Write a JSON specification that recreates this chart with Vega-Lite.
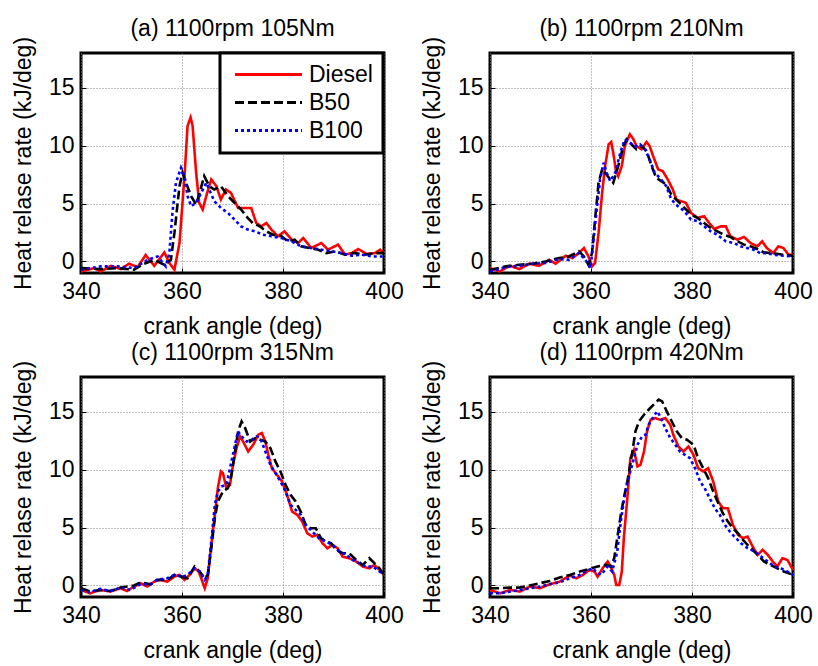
{
  "$schema": "https://vega.github.io/schema/vega-lite/v6.json",
  "padding": {"left": 10, "top": 16, "right": 3, "bottom": 0},
  "background": "white",
  "datasets": {
    "a": [
      {"fuel":"Diesel","deg":340,"hrr":-0.87},{"fuel":"Diesel","deg":342.6,"hrr":-0.58},{"fuel":"Diesel","deg":343.9,"hrr":-0.87},{"fuel":"Diesel","deg":345.9,"hrr":-0.38},{"fuel":"Diesel","deg":347.9,"hrr":-0.66},{"fuel":"Diesel","deg":349.5,"hrr":-0.2},{"fuel":"Diesel","deg":351.2,"hrr":-0.49},{"fuel":"Diesel","deg":352.8,"hrr":0.55},{"fuel":"Diesel","deg":354.5,"hrr":-0.38},{"fuel":"Diesel","deg":356.5,"hrr":0.78},{"fuel":"Diesel","deg":357.5,"hrr":-0.14},{"fuel":"Diesel","deg":358.5,"hrr":-0.72},{"fuel":"Diesel","deg":359.5,"hrr":1.59},{"fuel":"Diesel","deg":360.5,"hrr":7.37},{"fuel":"Diesel","deg":361.1,"hrr":11.7},{"fuel":"Diesel","deg":361.7,"hrr":12.43},{"fuel":"Diesel","deg":362.1,"hrr":11.7},{"fuel":"Diesel","deg":362.8,"hrr":7.66},{"fuel":"Diesel","deg":363.4,"hrr":5.06},{"fuel":"Diesel","deg":364.1,"hrr":4.48},{"fuel":"Diesel","deg":364.8,"hrr":5.64},{"fuel":"Diesel","deg":365.8,"hrr":7.08},{"fuel":"Diesel","deg":366.8,"hrr":6.5},{"fuel":"Diesel","deg":367.7,"hrr":5.35},{"fuel":"Diesel","deg":368.7,"hrr":6.21},{"fuel":"Diesel","deg":369.7,"hrr":5.92},{"fuel":"Diesel","deg":371.1,"hrr":4.62},{"fuel":"Diesel","deg":372.4,"hrr":4.62},{"fuel":"Diesel","deg":373.7,"hrr":4.62},{"fuel":"Diesel","deg":374.7,"hrr":3.32},{"fuel":"Diesel","deg":375.7,"hrr":3.03},{"fuel":"Diesel","deg":376.7,"hrr":3.32},{"fuel":"Diesel","deg":377.7,"hrr":2.75},{"fuel":"Diesel","deg":379.0,"hrr":2.17},{"fuel":"Diesel","deg":380.3,"hrr":2.6},{"fuel":"Diesel","deg":381.7,"hrr":1.88},{"fuel":"Diesel","deg":383.0,"hrr":1.59},{"fuel":"Diesel","deg":384.0,"hrr":2.02},{"fuel":"Diesel","deg":385.6,"hrr":1.16},{"fuel":"Diesel","deg":387.6,"hrr":1.59},{"fuel":"Diesel","deg":388.9,"hrr":1.01},{"fuel":"Diesel","deg":390.9,"hrr":1.45},{"fuel":"Diesel","deg":392.3,"hrr":0.58},{"fuel":"Diesel","deg":393.6,"hrr":0.72},{"fuel":"Diesel","deg":394.9,"hrr":1.07},{"fuel":"Diesel","deg":396.6,"hrr":0.64},{"fuel":"Diesel","deg":398.2,"hrr":0.72},{"fuel":"Diesel","deg":399.2,"hrr":1.01},{"fuel":"Diesel","deg":400,"hrr":0.72},
      {"fuel":"B50","deg":340,"hrr":-0.58},{"fuel":"B50","deg":343.9,"hrr":-0.66},{"fuel":"B50","deg":347.2,"hrr":-0.58},{"fuel":"B50","deg":350.5,"hrr":-0.72},{"fuel":"B50","deg":352.5,"hrr":-0.2},{"fuel":"B50","deg":354.5,"hrr":0.14},{"fuel":"B50","deg":356.5,"hrr":-0.29},{"fuel":"B50","deg":357.8,"hrr":0.14},{"fuel":"B50","deg":358.5,"hrr":2.46},{"fuel":"B50","deg":359.5,"hrr":6.5},{"fuel":"B50","deg":360.1,"hrr":7.66},{"fuel":"B50","deg":360.8,"hrr":6.79},{"fuel":"B50","deg":361.8,"hrr":5.64},{"fuel":"B50","deg":362.8,"hrr":4.91},{"fuel":"B50","deg":363.4,"hrr":5.78},{"fuel":"B50","deg":364.4,"hrr":7.37},{"fuel":"B50","deg":365.4,"hrr":6.5},{"fuel":"B50","deg":366.4,"hrr":6.21},{"fuel":"B50","deg":367.7,"hrr":6.5},{"fuel":"B50","deg":369.1,"hrr":5.64},{"fuel":"B50","deg":370.4,"hrr":5.06},{"fuel":"B50","deg":371.7,"hrr":4.48},{"fuel":"B50","deg":373.0,"hrr":3.76},{"fuel":"B50","deg":374.0,"hrr":3.32},{"fuel":"B50","deg":375.4,"hrr":3.03},{"fuel":"B50","deg":376.7,"hrr":2.6},{"fuel":"B50","deg":378.0,"hrr":2.31},{"fuel":"B50","deg":379.7,"hrr":2.17},{"fuel":"B50","deg":381.0,"hrr":1.73},{"fuel":"B50","deg":382.3,"hrr":1.88},{"fuel":"B50","deg":383.6,"hrr":1.3},{"fuel":"B50","deg":385.3,"hrr":1.16},{"fuel":"B50","deg":387.0,"hrr":1.01},{"fuel":"B50","deg":388.6,"hrr":0.72},{"fuel":"B50","deg":390.3,"hrr":0.87},{"fuel":"B50","deg":392.3,"hrr":0.58},{"fuel":"B50","deg":394.2,"hrr":0.72},{"fuel":"B50","deg":396.2,"hrr":0.58},{"fuel":"B50","deg":398.2,"hrr":0.72},{"fuel":"B50","deg":400,"hrr":0.72},
      {"fuel":"B100","deg":340,"hrr":-0.72},{"fuel":"B100","deg":343.9,"hrr":-0.43},{"fuel":"B100","deg":347.2,"hrr":-0.43},{"fuel":"B100","deg":350.5,"hrr":-0.58},{"fuel":"B100","deg":353.2,"hrr":0.14},{"fuel":"B100","deg":355.2,"hrr":0.43},{"fuel":"B100","deg":356.8,"hrr":-0.43},{"fuel":"B100","deg":357.5,"hrr":0.72},{"fuel":"B100","deg":358.1,"hrr":4.19},{"fuel":"B100","deg":358.8,"hrr":6.79},{"fuel":"B100","deg":359.8,"hrr":8.09},{"fuel":"B100","deg":360.5,"hrr":7.37},{"fuel":"B100","deg":361.1,"hrr":5.64},{"fuel":"B100","deg":361.8,"hrr":4.77},{"fuel":"B100","deg":362.8,"hrr":5.06},{"fuel":"B100","deg":363.8,"hrr":5.92},{"fuel":"B100","deg":364.8,"hrr":6.79},{"fuel":"B100","deg":365.4,"hrr":6.21},{"fuel":"B100","deg":366.4,"hrr":5.2},{"fuel":"B100","deg":367.7,"hrr":4.62},{"fuel":"B100","deg":369.1,"hrr":4.19},{"fuel":"B100","deg":370.4,"hrr":3.61},{"fuel":"B100","deg":371.7,"hrr":3.03},{"fuel":"B100","deg":373.0,"hrr":2.75},{"fuel":"B100","deg":374.4,"hrr":2.6},{"fuel":"B100","deg":376.0,"hrr":2.31},{"fuel":"B100","deg":377.7,"hrr":2.17},{"fuel":"B100","deg":379.7,"hrr":2.02},{"fuel":"B100","deg":381.7,"hrr":1.73},{"fuel":"B100","deg":383.6,"hrr":1.3},{"fuel":"B100","deg":385.6,"hrr":1.16},{"fuel":"B100","deg":387.6,"hrr":1.01},{"fuel":"B100","deg":389.6,"hrr":0.87},{"fuel":"B100","deg":391.6,"hrr":0.72},{"fuel":"B100","deg":393.6,"hrr":0.49},{"fuel":"B100","deg":395.6,"hrr":0.58},{"fuel":"B100","deg":397.5,"hrr":0.43},{"fuel":"B100","deg":400,"hrr":0.43}
    ],
    "b": [
      {"fuel":"Diesel","deg":340,"hrr":-0.58},{"fuel":"Diesel","deg":341.9,"hrr":-0.87},{"fuel":"Diesel","deg":343.9,"hrr":-0.38},{"fuel":"Diesel","deg":345.8,"hrr":-0.66},{"fuel":"Diesel","deg":347.8,"hrr":-0.2},{"fuel":"Diesel","deg":349.7,"hrr":-0.38},{"fuel":"Diesel","deg":351.7,"hrr":0.14},{"fuel":"Diesel","deg":353.0,"hrr":-0.2},{"fuel":"Diesel","deg":355.0,"hrr":0.49},{"fuel":"Diesel","deg":356.3,"hrr":0.29},{"fuel":"Diesel","deg":357.6,"hrr":0.72},{"fuel":"Diesel","deg":358.6,"hrr":1.16},{"fuel":"Diesel","deg":359.5,"hrr":0.43},{"fuel":"Diesel","deg":360.2,"hrr":-0.43},{"fuel":"Diesel","deg":360.8,"hrr":-0.14},{"fuel":"Diesel","deg":361.5,"hrr":2.46},{"fuel":"Diesel","deg":362.2,"hrr":5.92},{"fuel":"Diesel","deg":362.8,"hrr":8.24},{"fuel":"Diesel","deg":363.5,"hrr":10.12},{"fuel":"Diesel","deg":364.0,"hrr":10.32},{"fuel":"Diesel","deg":364.4,"hrr":9.39},{"fuel":"Diesel","deg":364.9,"hrr":7.95},{"fuel":"Diesel","deg":365.4,"hrr":7.37},{"fuel":"Diesel","deg":366.1,"hrr":8.24},{"fuel":"Diesel","deg":366.7,"hrr":9.97},{"fuel":"Diesel","deg":367.7,"hrr":10.98},{"fuel":"Diesel","deg":368.4,"hrr":10.55},{"fuel":"Diesel","deg":369.0,"hrr":9.97},{"fuel":"Diesel","deg":370.0,"hrr":9.68},{"fuel":"Diesel","deg":371.0,"hrr":10.32},{"fuel":"Diesel","deg":371.6,"hrr":9.97},{"fuel":"Diesel","deg":372.3,"hrr":9.1},{"fuel":"Diesel","deg":373.3,"hrr":7.95},{"fuel":"Diesel","deg":374.2,"hrr":7.8},{"fuel":"Diesel","deg":375.2,"hrr":7.08},{"fuel":"Diesel","deg":376.2,"hrr":6.21},{"fuel":"Diesel","deg":376.9,"hrr":5.35},{"fuel":"Diesel","deg":377.8,"hrr":5.2},{"fuel":"Diesel","deg":378.8,"hrr":5.06},{"fuel":"Diesel","deg":379.8,"hrr":4.19},{"fuel":"Diesel","deg":381.1,"hrr":3.76},{"fuel":"Diesel","deg":382.4,"hrr":3.9},{"fuel":"Diesel","deg":383.4,"hrr":3.32},{"fuel":"Diesel","deg":384.4,"hrr":2.8},{"fuel":"Diesel","deg":385.7,"hrr":3.03},{"fuel":"Diesel","deg":386.7,"hrr":3.03},{"fuel":"Diesel","deg":387.6,"hrr":2.17},{"fuel":"Diesel","deg":389.0,"hrr":1.88},{"fuel":"Diesel","deg":390.3,"hrr":2.11},{"fuel":"Diesel","deg":391.6,"hrr":1.59},{"fuel":"Diesel","deg":392.9,"hrr":1.3},{"fuel":"Diesel","deg":393.9,"hrr":1.73},{"fuel":"Diesel","deg":394.8,"hrr":1.16},{"fuel":"Diesel","deg":396.1,"hrr":0.72},{"fuel":"Diesel","deg":397.1,"hrr":1.3},{"fuel":"Diesel","deg":398.1,"hrr":1.16},{"fuel":"Diesel","deg":399.1,"hrr":0.58},{"fuel":"Diesel","deg":400,"hrr":0.58},
      {"fuel":"B50","deg":340,"hrr":-0.72},{"fuel":"B50","deg":343.2,"hrr":-0.43},{"fuel":"B50","deg":345.8,"hrr":-0.29},{"fuel":"B50","deg":348.4,"hrr":-0.2},{"fuel":"B50","deg":351.0,"hrr":0},{"fuel":"B50","deg":353.7,"hrr":0.29},{"fuel":"B50","deg":355.6,"hrr":0.43},{"fuel":"B50","deg":357.6,"hrr":0.87},{"fuel":"B50","deg":358.6,"hrr":0.43},{"fuel":"B50","deg":359.5,"hrr":-0.29},{"fuel":"B50","deg":360.2,"hrr":0.72},{"fuel":"B50","deg":360.8,"hrr":3.61},{"fuel":"B50","deg":361.5,"hrr":6.79},{"fuel":"B50","deg":362.2,"hrr":7.95},{"fuel":"B50","deg":362.8,"hrr":7.66},{"fuel":"B50","deg":363.8,"hrr":7.08},{"fuel":"B50","deg":364.4,"hrr":6.79},{"fuel":"B50","deg":365.4,"hrr":8.24},{"fuel":"B50","deg":366.4,"hrr":9.97},{"fuel":"B50","deg":367.1,"hrr":10.55},{"fuel":"B50","deg":368.0,"hrr":10.12},{"fuel":"B50","deg":369.0,"hrr":9.68},{"fuel":"B50","deg":370.0,"hrr":9.97},{"fuel":"B50","deg":371.0,"hrr":9.54},{"fuel":"B50","deg":372.0,"hrr":8.24},{"fuel":"B50","deg":372.9,"hrr":7.23},{"fuel":"B50","deg":373.9,"hrr":6.94},{"fuel":"B50","deg":374.9,"hrr":6.65},{"fuel":"B50","deg":375.9,"hrr":5.78},{"fuel":"B50","deg":377.2,"hrr":5.2},{"fuel":"B50","deg":378.5,"hrr":4.62},{"fuel":"B50","deg":379.8,"hrr":4.05},{"fuel":"B50","deg":381.1,"hrr":3.76},{"fuel":"B50","deg":382.4,"hrr":3.32},{"fuel":"B50","deg":383.7,"hrr":2.89},{"fuel":"B50","deg":385.0,"hrr":2.6},{"fuel":"B50","deg":386.3,"hrr":2.31},{"fuel":"B50","deg":387.6,"hrr":2.11},{"fuel":"B50","deg":389.0,"hrr":1.73},{"fuel":"B50","deg":390.3,"hrr":1.45},{"fuel":"B50","deg":391.6,"hrr":1.3},{"fuel":"B50","deg":392.9,"hrr":1.07},{"fuel":"B50","deg":394.2,"hrr":0.78},{"fuel":"B50","deg":395.5,"hrr":0.72},{"fuel":"B50","deg":396.8,"hrr":0.66},{"fuel":"B50","deg":398.1,"hrr":0.58},{"fuel":"B50","deg":400,"hrr":0.49},
      {"fuel":"B100","deg":340,"hrr":-0.87},{"fuel":"B100","deg":343.2,"hrr":-0.49},{"fuel":"B100","deg":345.8,"hrr":-0.38},{"fuel":"B100","deg":348.4,"hrr":-0.2},{"fuel":"B100","deg":351.0,"hrr":-0.14},{"fuel":"B100","deg":353.7,"hrr":0.2},{"fuel":"B100","deg":355.6,"hrr":0.14},{"fuel":"B100","deg":357.6,"hrr":0.72},{"fuel":"B100","deg":358.9,"hrr":0.14},{"fuel":"B100","deg":359.9,"hrr":-0.58},{"fuel":"B100","deg":360.5,"hrr":1.88},{"fuel":"B100","deg":361.2,"hrr":4.77},{"fuel":"B100","deg":361.8,"hrr":7.08},{"fuel":"B100","deg":362.5,"hrr":8.53},{"fuel":"B100","deg":363.1,"hrr":7.66},{"fuel":"B100","deg":363.8,"hrr":6.94},{"fuel":"B100","deg":364.8,"hrr":7.66},{"fuel":"B100","deg":365.8,"hrr":9.39},{"fuel":"B100","deg":366.7,"hrr":10.55},{"fuel":"B100","deg":367.7,"hrr":10.26},{"fuel":"B100","deg":368.7,"hrr":9.91},{"fuel":"B100","deg":369.7,"hrr":10.12},{"fuel":"B100","deg":370.7,"hrr":9.68},{"fuel":"B100","deg":371.6,"hrr":8.82},{"fuel":"B100","deg":372.6,"hrr":7.66},{"fuel":"B100","deg":373.6,"hrr":7.23},{"fuel":"B100","deg":374.9,"hrr":6.5},{"fuel":"B100","deg":375.9,"hrr":5.35},{"fuel":"B100","deg":377.2,"hrr":4.77},{"fuel":"B100","deg":378.5,"hrr":4.34},{"fuel":"B100","deg":379.8,"hrr":3.61},{"fuel":"B100","deg":381.1,"hrr":3.47},{"fuel":"B100","deg":382.4,"hrr":3.03},{"fuel":"B100","deg":383.7,"hrr":2.6},{"fuel":"B100","deg":385.0,"hrr":2.31},{"fuel":"B100","deg":386.7,"hrr":1.73},{"fuel":"B100","deg":388.3,"hrr":1.59},{"fuel":"B100","deg":389.6,"hrr":1.3},{"fuel":"B100","deg":390.9,"hrr":1.16},{"fuel":"B100","deg":392.2,"hrr":1.01},{"fuel":"B100","deg":393.5,"hrr":0.72},{"fuel":"B100","deg":394.8,"hrr":0.72},{"fuel":"B100","deg":396.1,"hrr":0.58},{"fuel":"B100","deg":398.1,"hrr":0.49},{"fuel":"B100","deg":400,"hrr":0.43}
    ],
    "c": [
      {"fuel":"Diesel","deg":340,"hrr":-0.39},{"fuel":"Diesel","deg":341.8,"hrr":-0.68},{"fuel":"Diesel","deg":343.8,"hrr":-0.39},{"fuel":"Diesel","deg":345.8,"hrr":-0.53},{"fuel":"Diesel","deg":347.8,"hrr":-0.24},{"fuel":"Diesel","deg":349.1,"hrr":-0.48},{"fuel":"Diesel","deg":350.5,"hrr":-0.1},{"fuel":"Diesel","deg":351.8,"hrr":0.19},{"fuel":"Diesel","deg":353.1,"hrr":-0.1},{"fuel":"Diesel","deg":354.5,"hrr":0.33},{"fuel":"Diesel","deg":355.8,"hrr":0.48},{"fuel":"Diesel","deg":357.1,"hrr":0.33},{"fuel":"Diesel","deg":358.5,"hrr":0.76},{"fuel":"Diesel","deg":359.5,"hrr":0.91},{"fuel":"Diesel","deg":360.5,"hrr":0.48},{"fuel":"Diesel","deg":361.5,"hrr":0.91},{"fuel":"Diesel","deg":362.5,"hrr":1.48},{"fuel":"Diesel","deg":363.3,"hrr":1.2},{"fuel":"Diesel","deg":363.8,"hrr":0.62},{"fuel":"Diesel","deg":364.5,"hrr":-0.24},{"fuel":"Diesel","deg":365.1,"hrr":0.62},{"fuel":"Diesel","deg":365.8,"hrr":3.5},{"fuel":"Diesel","deg":366.5,"hrr":6.1},{"fuel":"Diesel","deg":367.1,"hrr":8.4},{"fuel":"Diesel","deg":367.7,"hrr":9.84},{"fuel":"Diesel","deg":368.1,"hrr":9.7},{"fuel":"Diesel","deg":368.8,"hrr":8.4},{"fuel":"Diesel","deg":369.5,"hrr":8.69},{"fuel":"Diesel","deg":370.1,"hrr":10.42},{"fuel":"Diesel","deg":370.8,"hrr":11.86},{"fuel":"Diesel","deg":371.5,"hrr":12.87},{"fuel":"Diesel","deg":372.1,"hrr":12.43},{"fuel":"Diesel","deg":373.1,"hrr":11.57},{"fuel":"Diesel","deg":374.1,"hrr":12.15},{"fuel":"Diesel","deg":375.1,"hrr":13.01},{"fuel":"Diesel","deg":375.8,"hrr":13.16},{"fuel":"Diesel","deg":376.5,"hrr":12.43},{"fuel":"Diesel","deg":377.1,"hrr":11.28},{"fuel":"Diesel","deg":377.8,"hrr":10.13},{"fuel":"Diesel","deg":378.8,"hrr":9.55},{"fuel":"Diesel","deg":379.8,"hrr":8.98},{"fuel":"Diesel","deg":380.8,"hrr":7.82},{"fuel":"Diesel","deg":381.8,"hrr":6.38},{"fuel":"Diesel","deg":382.8,"hrr":6.1},{"fuel":"Diesel","deg":383.8,"hrr":5.52},{"fuel":"Diesel","deg":384.8,"hrr":4.51},{"fuel":"Diesel","deg":385.8,"hrr":4.22},{"fuel":"Diesel","deg":386.8,"hrr":4.37},{"fuel":"Diesel","deg":387.8,"hrr":3.65},{"fuel":"Diesel","deg":388.8,"hrr":3.21},{"fuel":"Diesel","deg":389.8,"hrr":3.5},{"fuel":"Diesel","deg":390.8,"hrr":3.21},{"fuel":"Diesel","deg":391.8,"hrr":2.49},{"fuel":"Diesel","deg":393.1,"hrr":2.35},{"fuel":"Diesel","deg":394.5,"hrr":2.06},{"fuel":"Diesel","deg":395.8,"hrr":1.63},{"fuel":"Diesel","deg":397.1,"hrr":1.48},{"fuel":"Diesel","deg":398.1,"hrr":1.77},{"fuel":"Diesel","deg":399.1,"hrr":1.34},{"fuel":"Diesel","deg":400,"hrr":0.91},
      {"fuel":"B50","deg":340,"hrr":-0.24},{"fuel":"B50","deg":341.8,"hrr":-0.53},{"fuel":"B50","deg":343.8,"hrr":-0.39},{"fuel":"B50","deg":345.8,"hrr":-0.48},{"fuel":"B50","deg":347.8,"hrr":-0.19},{"fuel":"B50","deg":350.5,"hrr":0},{"fuel":"B50","deg":351.8,"hrr":0.27},{"fuel":"B50","deg":353.8,"hrr":0.1},{"fuel":"B50","deg":355.1,"hrr":0.48},{"fuel":"B50","deg":357.1,"hrr":0.48},{"fuel":"B50","deg":358.5,"hrr":0.91},{"fuel":"B50","deg":359.8,"hrr":0.76},{"fuel":"B50","deg":361.1,"hrr":0.62},{"fuel":"B50","deg":362.5,"hrr":1.63},{"fuel":"B50","deg":363.5,"hrr":1.2},{"fuel":"B50","deg":364.5,"hrr":0.62},{"fuel":"B50","deg":365.1,"hrr":0.91},{"fuel":"B50","deg":365.8,"hrr":3.21},{"fuel":"B50","deg":366.5,"hrr":5.81},{"fuel":"B50","deg":367.1,"hrr":7.25},{"fuel":"B50","deg":368.1,"hrr":8.11},{"fuel":"B50","deg":369.1,"hrr":8.4},{"fuel":"B50","deg":369.8,"hrr":9.55},{"fuel":"B50","deg":370.5,"hrr":11.57},{"fuel":"B50","deg":371.1,"hrr":13.3},{"fuel":"B50","deg":371.8,"hrr":14.16},{"fuel":"B50","deg":372.5,"hrr":13.59},{"fuel":"B50","deg":373.5,"hrr":12.43},{"fuel":"B50","deg":374.5,"hrr":12.72},{"fuel":"B50","deg":375.5,"hrr":12.58},{"fuel":"B50","deg":376.5,"hrr":12.43},{"fuel":"B50","deg":377.5,"hrr":11.86},{"fuel":"B50","deg":378.5,"hrr":10.71},{"fuel":"B50","deg":379.5,"hrr":9.84},{"fuel":"B50","deg":380.5,"hrr":8.69},{"fuel":"B50","deg":381.5,"hrr":7.82},{"fuel":"B50","deg":382.5,"hrr":7.25},{"fuel":"B50","deg":383.5,"hrr":6.38},{"fuel":"B50","deg":384.5,"hrr":5.23},{"fuel":"B50","deg":385.5,"hrr":4.94},{"fuel":"B50","deg":386.5,"hrr":4.94},{"fuel":"B50","deg":387.5,"hrr":4.08},{"fuel":"B50","deg":388.5,"hrr":3.79},{"fuel":"B50","deg":389.5,"hrr":3.65},{"fuel":"B50","deg":390.5,"hrr":3.07},{"fuel":"B50","deg":391.8,"hrr":2.78},{"fuel":"B50","deg":393.1,"hrr":2.78},{"fuel":"B50","deg":394.5,"hrr":2.2},{"fuel":"B50","deg":395.8,"hrr":1.77},{"fuel":"B50","deg":397.1,"hrr":2.35},{"fuel":"B50","deg":398.1,"hrr":1.92},{"fuel":"B50","deg":399.1,"hrr":1.48},{"fuel":"B50","deg":400,"hrr":0.91},
      {"fuel":"B100","deg":340,"hrr":-0.39},{"fuel":"B100","deg":341.8,"hrr":-0.59},{"fuel":"B100","deg":343.8,"hrr":-0.3},{"fuel":"B100","deg":345.8,"hrr":-0.48},{"fuel":"B100","deg":347.8,"hrr":-0.19},{"fuel":"B100","deg":349.8,"hrr":-0.39},{"fuel":"B100","deg":351.8,"hrr":0.1},{"fuel":"B100","deg":353.8,"hrr":0.1},{"fuel":"B100","deg":355.1,"hrr":0.48},{"fuel":"B100","deg":357.1,"hrr":0.62},{"fuel":"B100","deg":358.5,"hrr":0.91},{"fuel":"B100","deg":360.1,"hrr":0.76},{"fuel":"B100","deg":361.1,"hrr":0.91},{"fuel":"B100","deg":362.5,"hrr":1.48},{"fuel":"B100","deg":363.5,"hrr":1.2},{"fuel":"B100","deg":364.5,"hrr":0.48},{"fuel":"B100","deg":365.1,"hrr":0.91},{"fuel":"B100","deg":365.8,"hrr":3.79},{"fuel":"B100","deg":366.5,"hrr":6.96},{"fuel":"B100","deg":367.1,"hrr":8.11},{"fuel":"B100","deg":367.8,"hrr":8.54},{"fuel":"B100","deg":368.8,"hrr":8.69},{"fuel":"B100","deg":369.8,"hrr":10.71},{"fuel":"B100","deg":370.5,"hrr":12.15},{"fuel":"B100","deg":371.1,"hrr":13.3},{"fuel":"B100","deg":371.8,"hrr":12.87},{"fuel":"B100","deg":372.8,"hrr":12.43},{"fuel":"B100","deg":373.8,"hrr":12.58},{"fuel":"B100","deg":374.8,"hrr":12.87},{"fuel":"B100","deg":375.5,"hrr":12.72},{"fuel":"B100","deg":376.5,"hrr":11.57},{"fuel":"B100","deg":377.5,"hrr":10.42},{"fuel":"B100","deg":378.5,"hrr":9.7},{"fuel":"B100","deg":379.5,"hrr":8.98},{"fuel":"B100","deg":380.5,"hrr":8.11},{"fuel":"B100","deg":381.5,"hrr":6.96},{"fuel":"B100","deg":382.5,"hrr":6.53},{"fuel":"B100","deg":383.5,"hrr":6.1},{"fuel":"B100","deg":384.5,"hrr":5.23},{"fuel":"B100","deg":385.8,"hrr":4.65},{"fuel":"B100","deg":387.1,"hrr":4.08},{"fuel":"B100","deg":388.5,"hrr":3.79},{"fuel":"B100","deg":389.8,"hrr":3.5},{"fuel":"B100","deg":391.1,"hrr":2.93},{"fuel":"B100","deg":392.5,"hrr":2.64},{"fuel":"B100","deg":393.8,"hrr":2.2},{"fuel":"B100","deg":395.1,"hrr":1.92},{"fuel":"B100","deg":396.5,"hrr":1.63},{"fuel":"B100","deg":397.8,"hrr":1.63},{"fuel":"B100","deg":399.1,"hrr":1.2},{"fuel":"B100","deg":400,"hrr":0.91}
    ],
    "d": [
      {"fuel":"Diesel","deg":340,"hrr":-0.39},{"fuel":"Diesel","deg":342.0,"hrr":-0.68},{"fuel":"Diesel","deg":344.0,"hrr":-0.39},{"fuel":"Diesel","deg":345.9,"hrr":-0.53},{"fuel":"Diesel","deg":347.9,"hrr":-0.1},{"fuel":"Diesel","deg":349.9,"hrr":-0.24},{"fuel":"Diesel","deg":351.8,"hrr":0.1},{"fuel":"Diesel","deg":353.8,"hrr":0.33},{"fuel":"Diesel","deg":355.8,"hrr":0.85},{"fuel":"Diesel","deg":357.1,"hrr":0.62},{"fuel":"Diesel","deg":358.4,"hrr":0.91},{"fuel":"Diesel","deg":359.7,"hrr":1.34},{"fuel":"Diesel","deg":360.7,"hrr":1.2},{"fuel":"Diesel","deg":361.3,"hrr":0.76},{"fuel":"Diesel","deg":362.3,"hrr":1.48},{"fuel":"Diesel","deg":363.3,"hrr":2.06},{"fuel":"Diesel","deg":363.9,"hrr":1.63},{"fuel":"Diesel","deg":364.6,"hrr":0.91},{"fuel":"Diesel","deg":365.0,"hrr":0.04},{"fuel":"Diesel","deg":365.6,"hrr":0.04},{"fuel":"Diesel","deg":366.1,"hrr":1.2},{"fuel":"Diesel","deg":366.5,"hrr":4.08},{"fuel":"Diesel","deg":367.2,"hrr":7.54},{"fuel":"Diesel","deg":367.8,"hrr":10.99},{"fuel":"Diesel","deg":368.5,"hrr":11.71},{"fuel":"Diesel","deg":369.2,"hrr":10.27},{"fuel":"Diesel","deg":369.8,"hrr":10.42},{"fuel":"Diesel","deg":370.5,"hrr":11.57},{"fuel":"Diesel","deg":371.1,"hrr":13.3},{"fuel":"Diesel","deg":371.8,"hrr":14.3},{"fuel":"Diesel","deg":372.7,"hrr":14.45},{"fuel":"Diesel","deg":373.7,"hrr":14.3},{"fuel":"Diesel","deg":374.7,"hrr":14.45},{"fuel":"Diesel","deg":375.7,"hrr":13.88},{"fuel":"Diesel","deg":376.3,"hrr":13.01},{"fuel":"Diesel","deg":377.3,"hrr":12.0},{"fuel":"Diesel","deg":378.3,"hrr":11.57},{"fuel":"Diesel","deg":379.3,"hrr":12.0},{"fuel":"Diesel","deg":380.3,"hrr":11.28},{"fuel":"Diesel","deg":381.2,"hrr":10.13},{"fuel":"Diesel","deg":382.2,"hrr":9.84},{"fuel":"Diesel","deg":383.2,"hrr":10.13},{"fuel":"Diesel","deg":384.2,"hrr":8.98},{"fuel":"Diesel","deg":385.2,"hrr":7.25},{"fuel":"Diesel","deg":386.1,"hrr":6.67},{"fuel":"Diesel","deg":387.1,"hrr":6.67},{"fuel":"Diesel","deg":388.1,"hrr":5.23},{"fuel":"Diesel","deg":389.1,"hrr":4.37},{"fuel":"Diesel","deg":390.1,"hrr":4.08},{"fuel":"Diesel","deg":391.0,"hrr":4.22},{"fuel":"Diesel","deg":392.0,"hrr":3.36},{"fuel":"Diesel","deg":393.0,"hrr":2.64},{"fuel":"Diesel","deg":394.0,"hrr":3.07},{"fuel":"Diesel","deg":395.0,"hrr":2.64},{"fuel":"Diesel","deg":396.0,"hrr":2.06},{"fuel":"Diesel","deg":396.9,"hrr":1.63},{"fuel":"Diesel","deg":397.9,"hrr":2.35},{"fuel":"Diesel","deg":398.9,"hrr":2.2},{"fuel":"Diesel","deg":400,"hrr":1.34},
      {"fuel":"B50","deg":340,"hrr":-0.24},{"fuel":"B50","deg":342.0,"hrr":-0.24},{"fuel":"B50","deg":344.0,"hrr":-0.19},{"fuel":"B50","deg":345.9,"hrr":-0.19},{"fuel":"B50","deg":347.9,"hrr":0},{"fuel":"B50","deg":349.9,"hrr":0.19},{"fuel":"B50","deg":351.8,"hrr":0.39},{"fuel":"B50","deg":353.8,"hrr":0.68},{"fuel":"B50","deg":355.8,"hrr":0.91},{"fuel":"B50","deg":357.8,"hrr":1.2},{"fuel":"B50","deg":359.7,"hrr":1.43},{"fuel":"B50","deg":361.3,"hrr":1.63},{"fuel":"B50","deg":362.9,"hrr":1.77},{"fuel":"B50","deg":363.9,"hrr":1.63},{"fuel":"B50","deg":364.6,"hrr":2.35},{"fuel":"B50","deg":365.2,"hrr":4.08},{"fuel":"B50","deg":365.9,"hrr":6.1},{"fuel":"B50","deg":366.5,"hrr":7.54},{"fuel":"B50","deg":367.2,"hrr":8.98},{"fuel":"B50","deg":368.2,"hrr":11.57},{"fuel":"B50","deg":368.8,"hrr":13.3},{"fuel":"B50","deg":369.5,"hrr":14.16},{"fuel":"B50","deg":370.5,"hrr":14.74},{"fuel":"B50","deg":371.4,"hrr":15.17},{"fuel":"B50","deg":372.4,"hrr":15.61},{"fuel":"B50","deg":373.4,"hrr":16.04},{"fuel":"B50","deg":374.1,"hrr":15.89},{"fuel":"B50","deg":375.0,"hrr":15.03},{"fuel":"B50","deg":376.0,"hrr":14.16},{"fuel":"B50","deg":377.0,"hrr":13.3},{"fuel":"B50","deg":378.0,"hrr":12.72},{"fuel":"B50","deg":379.0,"hrr":12.58},{"fuel":"B50","deg":380.3,"hrr":12.15},{"fuel":"B50","deg":381.2,"hrr":10.99},{"fuel":"B50","deg":382.2,"hrr":10.13},{"fuel":"B50","deg":383.2,"hrr":9.27},{"fuel":"B50","deg":384.2,"hrr":8.11},{"fuel":"B50","deg":385.2,"hrr":7.1},{"fuel":"B50","deg":386.1,"hrr":6.24},{"fuel":"B50","deg":387.1,"hrr":5.52},{"fuel":"B50","deg":388.1,"hrr":4.94},{"fuel":"B50","deg":389.1,"hrr":4.51},{"fuel":"B50","deg":390.1,"hrr":3.93},{"fuel":"B50","deg":391.0,"hrr":3.5},{"fuel":"B50","deg":392.0,"hrr":3.07},{"fuel":"B50","deg":393.0,"hrr":2.64},{"fuel":"B50","deg":394.3,"hrr":2.06},{"fuel":"B50","deg":395.6,"hrr":1.77},{"fuel":"B50","deg":396.9,"hrr":1.48},{"fuel":"B50","deg":398.2,"hrr":1.2},{"fuel":"B50","deg":400,"hrr":0.91},
      {"fuel":"B100","deg":340,"hrr":-0.68},{"fuel":"B100","deg":342.0,"hrr":-0.68},{"fuel":"B100","deg":344.0,"hrr":-0.53},{"fuel":"B100","deg":345.9,"hrr":-0.39},{"fuel":"B100","deg":347.9,"hrr":-0.24},{"fuel":"B100","deg":349.9,"hrr":-0.1},{"fuel":"B100","deg":351.8,"hrr":0.1},{"fuel":"B100","deg":353.8,"hrr":0.27},{"fuel":"B100","deg":355.8,"hrr":0.62},{"fuel":"B100","deg":357.7,"hrr":0.91},{"fuel":"B100","deg":359.0,"hrr":1.2},{"fuel":"B100","deg":360.3,"hrr":1.48},{"fuel":"B100","deg":361.0,"hrr":1.2},{"fuel":"B100","deg":362.0,"hrr":0.91},{"fuel":"B100","deg":363.3,"hrr":1.63},{"fuel":"B100","deg":364.2,"hrr":1.2},{"fuel":"B100","deg":365.2,"hrr":2.93},{"fuel":"B100","deg":365.9,"hrr":5.52},{"fuel":"B100","deg":366.5,"hrr":7.25},{"fuel":"B100","deg":367.2,"hrr":8.98},{"fuel":"B100","deg":367.8,"hrr":9.84},{"fuel":"B100","deg":368.5,"hrr":10.99},{"fuel":"B100","deg":369.2,"hrr":12.15},{"fuel":"B100","deg":370.1,"hrr":12.87},{"fuel":"B100","deg":370.8,"hrr":13.01},{"fuel":"B100","deg":371.4,"hrr":13.88},{"fuel":"B100","deg":372.4,"hrr":14.6},{"fuel":"B100","deg":373.1,"hrr":15.03},{"fuel":"B100","deg":373.7,"hrr":14.6},{"fuel":"B100","deg":374.7,"hrr":13.59},{"fuel":"B100","deg":375.7,"hrr":12.72},{"fuel":"B100","deg":376.7,"hrr":12.15},{"fuel":"B100","deg":377.6,"hrr":11.57},{"fuel":"B100","deg":378.6,"hrr":11.28},{"fuel":"B100","deg":379.6,"hrr":10.99},{"fuel":"B100","deg":380.6,"hrr":10.13},{"fuel":"B100","deg":381.6,"hrr":8.98},{"fuel":"B100","deg":382.5,"hrr":8.4},{"fuel":"B100","deg":383.5,"hrr":7.54},{"fuel":"B100","deg":384.5,"hrr":6.67},{"fuel":"B100","deg":385.5,"hrr":6.1},{"fuel":"B100","deg":386.5,"hrr":5.23},{"fuel":"B100","deg":387.5,"hrr":4.65},{"fuel":"B100","deg":388.4,"hrr":4.22},{"fuel":"B100","deg":389.7,"hrr":3.65},{"fuel":"B100","deg":391.0,"hrr":3.21},{"fuel":"B100","deg":392.4,"hrr":2.93},{"fuel":"B100","deg":393.7,"hrr":2.49},{"fuel":"B100","deg":395.0,"hrr":2.06},{"fuel":"B100","deg":396.3,"hrr":1.63},{"fuel":"B100","deg":397.6,"hrr":1.48},{"fuel":"B100","deg":398.9,"hrr":1.2},{"fuel":"B100","deg":400,"hrr":0.91}
    ]
  },
  "vconcat": [
    {"hconcat": [
      {"width": 303, "height": 220, "title": "(a) 1100rpm 105Nm", "data": {"name": "a"},
       "mark": {"type": "line", "strokeWidth": 2.6, "clip": true},
       "encoding": {
         "x": {"field": "deg", "type": "quantitative", "scale": {"domain": [340, 400], "nice": false}, "axis": {"values": [340, 360, 380, 400], "title": "crank angle (deg)"}},
         "y": {"field": "hrr", "type": "quantitative", "scale": {"domain": [-1, 18], "nice": false}, "axis": {"values": [0, 5, 10, 15], "title": "Heat relase rate (kJ/deg)"}},
         "color": {"field": "fuel", "type": "nominal", "sort": null, "scale": {"domain": ["Diesel", "B50", "B100"], "range": ["#ff0000", "#000000", "#0000ff"]}, "legend": {"orient": "none", "legendX": 139, "legendY": 0, "title": null, "symbolType": "M-0.65,0H6.05", "symbolSize": 400}},
         "strokeDash": {"field": "fuel", "type": "nominal", "sort": null, "scale": {"domain": ["Diesel", "B50", "B100"], "range": [[1, 0], [9, 4], [3, 3]]}, "legend": {"orient": "none", "legendX": 139, "legendY": 0, "title": null, "symbolType": "M-0.65,0H6.05", "symbolSize": 400}}
       }},
      {"width": 303, "height": 220, "title": "(b) 1100rpm 210Nm", "data": {"name": "b"},
       "mark": {"type": "line", "strokeWidth": 2.6, "clip": true},
       "encoding": {
         "x": {"field": "deg", "type": "quantitative", "scale": {"domain": [340, 400], "nice": false}, "axis": {"values": [340, 360, 380, 400], "title": "crank angle (deg)"}},
         "y": {"field": "hrr", "type": "quantitative", "scale": {"domain": [-1, 18], "nice": false}, "axis": {"values": [0, 5, 10, 15], "title": "Heat relase rate (kJ/deg)"}},
         "color": {"field": "fuel", "type": "nominal", "sort": null, "scale": {"domain": ["Diesel", "B50", "B100"], "range": ["#ff0000", "#000000", "#0000ff"]}, "legend": null},
         "strokeDash": {"field": "fuel", "type": "nominal", "sort": null, "scale": {"domain": ["Diesel", "B50", "B100"], "range": [[1, 0], [9, 4], [3, 3]]}, "legend": null}
       }}
    ]},
    {"hconcat": [
      {"width": 303, "height": 220, "title": "(c) 1100rpm 315Nm", "data": {"name": "c"},
       "mark": {"type": "line", "strokeWidth": 2.6, "clip": true},
       "encoding": {
         "x": {"field": "deg", "type": "quantitative", "scale": {"domain": [340, 400], "nice": false}, "axis": {"values": [340, 360, 380, 400], "title": "crank angle (deg)"}},
         "y": {"field": "hrr", "type": "quantitative", "scale": {"domain": [-1, 18], "nice": false}, "axis": {"values": [0, 5, 10, 15], "title": "Heat relase rate (kJ/deg)"}},
         "color": {"field": "fuel", "type": "nominal", "sort": null, "scale": {"domain": ["Diesel", "B50", "B100"], "range": ["#ff0000", "#000000", "#0000ff"]}, "legend": null},
         "strokeDash": {"field": "fuel", "type": "nominal", "sort": null, "scale": {"domain": ["Diesel", "B50", "B100"], "range": [[1, 0], [9, 4], [3, 3]]}, "legend": null}
       }},
      {"width": 303, "height": 220, "title": "(d) 1100rpm 420Nm", "data": {"name": "d"},
       "mark": {"type": "line", "strokeWidth": 2.6, "clip": true},
       "encoding": {
         "x": {"field": "deg", "type": "quantitative", "scale": {"domain": [340, 400], "nice": false}, "axis": {"values": [340, 360, 380, 400], "title": "crank angle (deg)"}},
         "y": {"field": "hrr", "type": "quantitative", "scale": {"domain": [-1, 18], "nice": false}, "axis": {"values": [0, 5, 10, 15], "title": "Heat relase rate (kJ/deg)"}},
         "color": {"field": "fuel", "type": "nominal", "sort": null, "scale": {"domain": ["Diesel", "B50", "B100"], "range": ["#ff0000", "#000000", "#0000ff"]}, "legend": null},
         "strokeDash": {"field": "fuel", "type": "nominal", "sort": null, "scale": {"domain": ["Diesel", "B50", "B100"], "range": [[1, 0], [9, 4], [3, 3]]}, "legend": null}
       }}
    ]}
  ],
  "resolve": {"scale": {"color": "independent", "strokeDash": "independent"}, "legend": {"color": "independent", "strokeDash": "independent"}},
  "spacing": 0,
  "config": {
    "font": "Liberation Sans",
    "concat": {"spacing": 14},
    "view": {"stroke": "black", "strokeWidth": 3},
    "axis": {"labelFontSize": 23, "titleFontSize": 23, "titleFontWeight": "normal", "labelColor": "black", "titleColor": "black", "domain": false, "ticks": true, "tickSize": -5, "tickColor": "black", "tickWidth": 1, "grid": true, "gridColor": "#808080", "gridDash": [1, 2], "gridWidth": 1, "labelFlush": false, "labelOverlap": false, "labelBound": false},
    "axisX": {"labelPadding": 12, "titlePadding": 12},
    "axisY": {"labelPadding": 12, "titlePadding": 13},
    "title": {"fontSize": 23, "fontWeight": "normal", "offset": -4.5, "color": "black"},
    "legend": {"labelFontSize": 23, "labelColor": "black", "symbolStrokeWidth": 3, "strokeColor": "black", "strokeWidth": 3, "fillColor": "white", "padding": 10, "rowPadding": 4, "labelOffset": 56, "symbolFillColor": "transparent"}
  }
}
